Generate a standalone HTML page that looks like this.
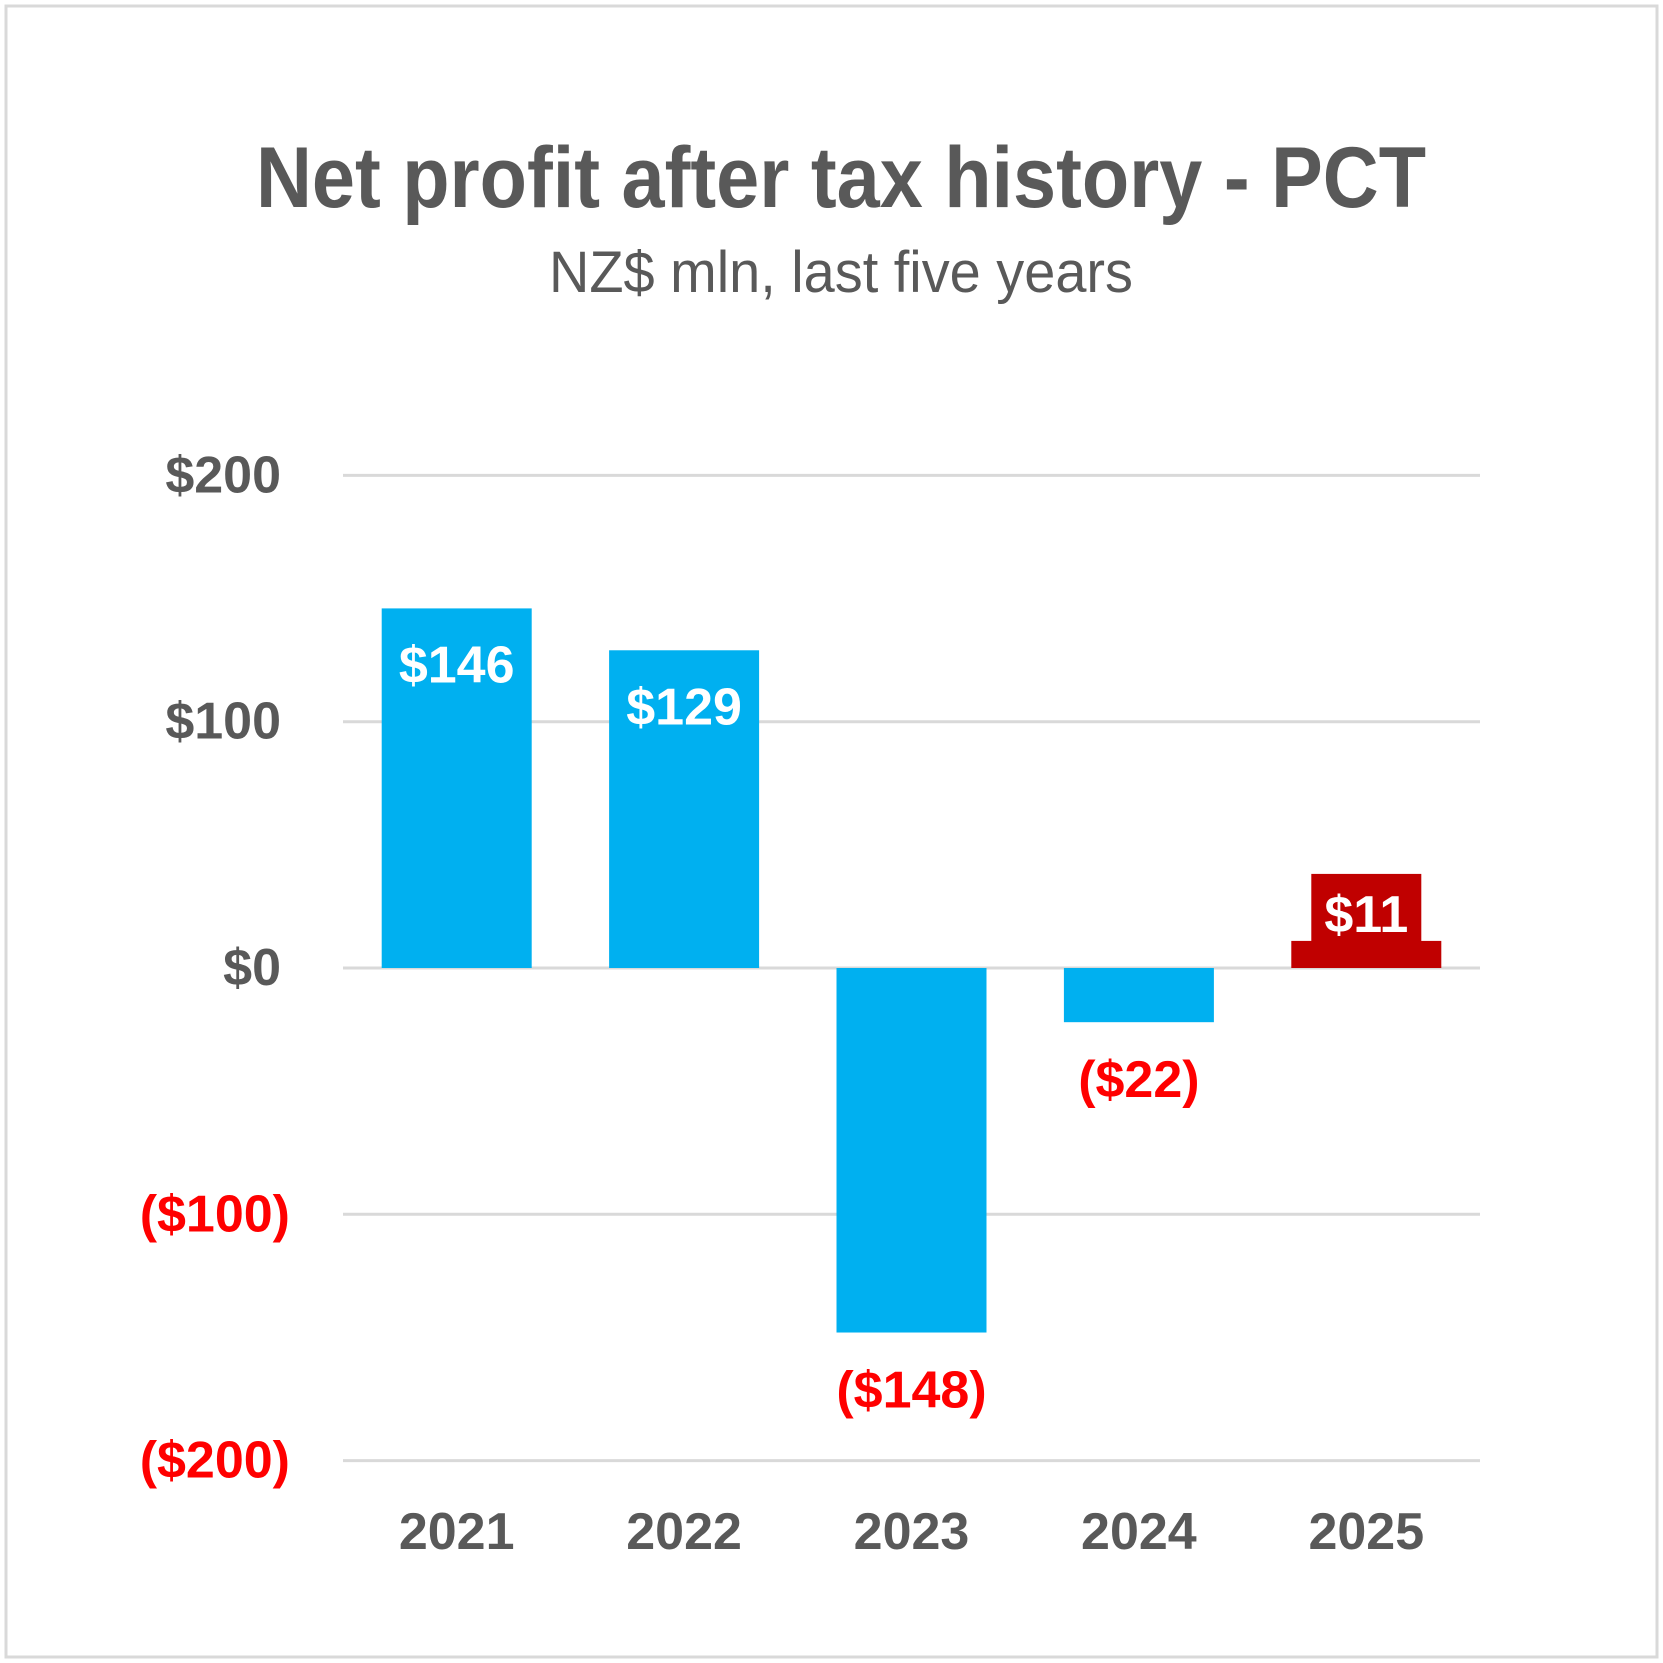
<!DOCTYPE html>
<html><head><meta charset="utf-8"><style>html,body{margin:0;padding:0;background:#fff}svg{display:block}text{font-family:"Liberation Sans",sans-serif}</style></head>
<body>
<svg id="chart" width="1663" height="1663" viewBox="0 0 1663 1663" xmlns="http://www.w3.org/2000/svg">
<rect x="6" y="6" width="1651" height="1651" fill="#fff" stroke="#d9d9d9" stroke-width="3"/>
<text x="841" y="207" text-anchor="middle" font-size="86" font-weight="bold" fill="#595959" textLength="1170" lengthAdjust="spacingAndGlyphs">Net profit after tax history - PCT</text>
<text x="841" y="292" text-anchor="middle" font-size="58" fill="#595959" textLength="584" lengthAdjust="spacingAndGlyphs">NZ$ mln, last five years</text>
<g id="grid"></g><g id="bars"></g><g id="labels"></g>
</svg>
<script>
const categories = ["2021","2022","2023","2024","2025"];
const values = [146, 129, -148, -22, 11];
const valueLabels = ["$146","$129","($148)","($22)","$11"];
const ticks = [200, 100, 0, -100, -200];
const tickLabels = ["$200","$100","$0","($100)","($200)"];
const NS="http://www.w3.org/2000/svg";
const plotL=343, plotR=1480, y0=968, pxPerUnit=2.463;
const band=(plotR-plotL)/categories.length, barW=150;
function y(v){return y0 - v*pxPerUnit;}
function xc(i){return plotL + band*(i+0.5);}
function mk(tag,attrs,parent,txt){const e=document.createElementNS(NS,tag);for(const k in attrs)e.setAttribute(k,attrs[k]);if(txt!==undefined)e.textContent=txt;document.getElementById(parent).appendChild(e);return e;}
ticks.forEach((t,i)=>{
  const l=mk('line',{x1:plotL,x2:plotR,y1:y(t),y2:y(t),stroke:'#d9d9d9','stroke-width':3},'grid');
  
  
  const tx=mk('text',{x:t<0?290:281,y:y(t)+17,'text-anchor':'end','font-size':52,'font-weight':'bold',fill:t<0?'#ff0000':'#595959'},'grid',tickLabels[i]);
  
  
});
categories.forEach((c,i)=>{
  const v=values[i], cx=xc(i);
  const top=Math.min(y(v),y0), h=Math.abs(y(v)-y0);
  const r=mk('rect',{x:cx-barW/2,y:top,width:barW,height:h,fill:i===4?'#c00000':'#00b0f0'},'bars');
  
  
  let ly;
  if(v<0){ly=y(v)+75;}
  else if(v>=30){ly=y(v)+74;}
  else{
    const bx=mk('rect',{x:cx-55,y:y(v)-67,width:110,height:68,fill:'#c00000'},'labels');
    
    
    ly=y(v)-9;
  }
  const lt=mk('text',{x:cx,y:ly,'text-anchor':'middle','font-size':52,'font-weight':'bold',fill:v<0?'#ff0000':'#ffffff'},'labels',valueLabels[i]);
  
  
  const xt=mk('text',{x:cx,y:1549,'text-anchor':'middle','font-size':52,'font-weight':'bold',fill:'#595959'},'labels',c);
  
  
});
</script>
</body></html>
